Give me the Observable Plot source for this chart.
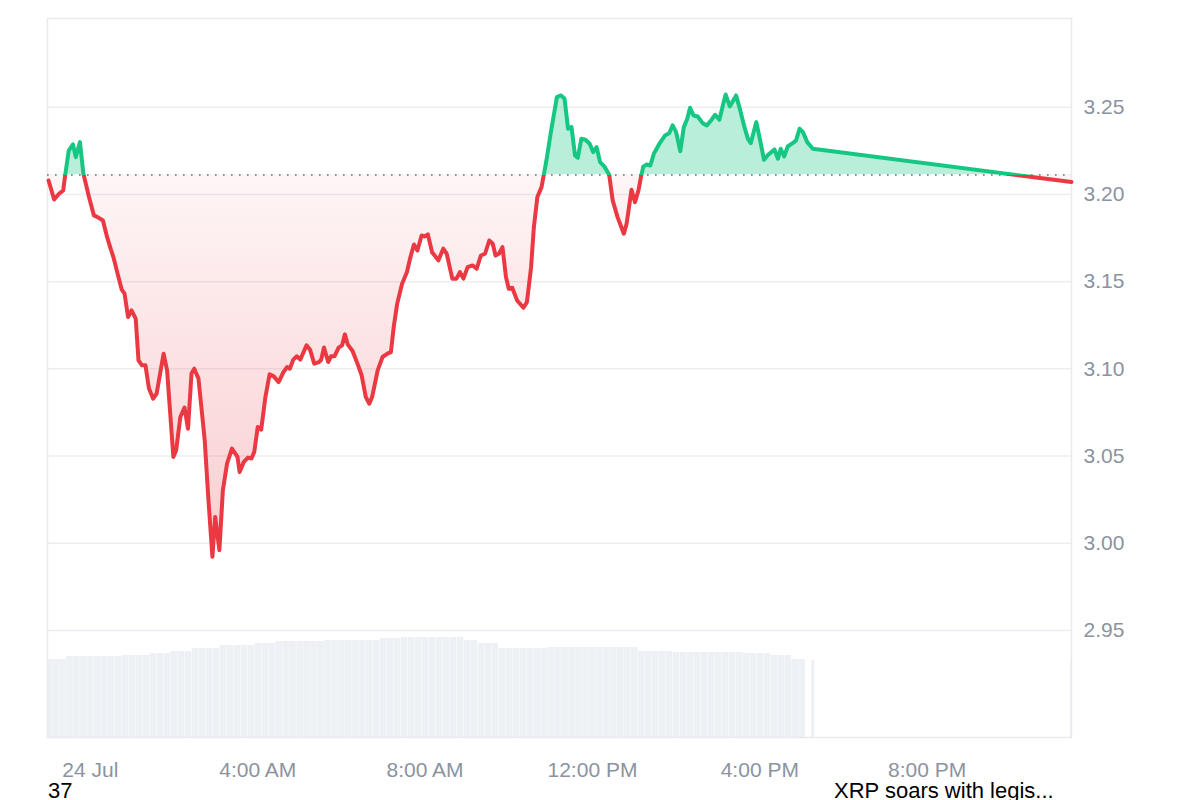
<!DOCTYPE html>
<html><head><meta charset="utf-8">
<script src="https://cdn.jsdelivr.net/npm/d3@7"></script>
<script src="https://cdn.jsdelivr.net/npm/@observablehq/plot@0.6"></script>
<style>
body{margin:0;background:#fff;font-family:"Liberation Sans",Arial,sans-serif;}
#wrap{position:relative;width:1200px;height:800px;overflow:hidden;}
#vol,#price{position:absolute;left:0;top:0;}
#caption{position:absolute;top:780px;left:0;width:1200px;height:22px;font-size:22px;line-height:22px;color:#000;}
#caption span{position:absolute;top:0;white-space:nowrap;}
</style></head><body>
<div id="wrap"><div id="vol"></div><div id="price"></div>
<div id="caption"><span id="capLeft" style="left:48px"></span><span id="capRight" style="left:834px"></span></div></div>
<script>
// ---- data (minutes relative to 24 Jul 2025 00:00 UTC) ----
const priceMinutes = [-60,-52,-45,-39,-36,-31,-25,-21,-15,-10,-2,5,12,18,24,29,33,39,45,49,54,59,65,69,74,79,84,90,95,105,110,119,123,129,135,140,145,149,155,164,169,175,179,185,190,196,203,211,214,220,226,231,235,240,245,251,257,263,270,277,282,286,291,296,301,310,315,321,328,331,335,341,345,350,356,361,365,369,376,383,389,395,400,404,412,419,426,431,435,440,447,454,459,464,469,475,479,484,490,499,506,511,519,525,530,535,541,548,554,560,566,572,577,581,586,591,596,600,605,612,621,626,632,636,641,647,654,660,669,675,680,685,690,695,699,704,710,716,721,726,731,737,744,749,756,765,769,776,781,786,790,793,798,803,808,816,824,830,835,840,846,851,856,860,865,871,878,884,890,896,902,907,911,917,926,932,938,943,947,955,961,966,971,981,986,990,995,1000,1007,1012,1017,1022,1028,1036,1407];
const prices = [3.2080,3.1971,3.2004,3.2023,3.2115,3.2252,3.2287,3.2214,3.2300,3.2119,3.1985,3.1880,3.1866,3.1851,3.1755,3.1689,3.1641,3.1546,3.1454,3.1431,3.1297,3.1335,3.1288,3.1049,3.1020,3.1020,3.0887,3.0829,3.0858,3.1087,3.0991,3.0495,3.0533,3.0724,3.0778,3.0657,3.0973,3.1001,3.0944,3.0590,3.0266,2.9922,3.0151,2.9960,3.0304,3.0457,3.0543,3.0495,3.0409,3.0466,3.0491,3.0486,3.0523,3.0667,3.0652,3.0838,3.0969,3.0957,3.0924,3.0982,3.1010,3.1001,3.1053,3.1072,3.1053,3.1135,3.1110,3.1030,3.1039,3.1053,3.1122,3.1039,3.1072,3.1072,3.1122,3.1135,3.1198,3.1140,3.1102,3.1030,3.0963,3.0838,3.0800,3.0838,3.0991,3.1068,3.1087,3.1096,3.1240,3.1374,3.1488,3.1555,3.1641,3.1713,3.1679,3.1765,3.1759,3.1771,3.1669,3.1622,3.1689,3.1660,3.1517,3.1517,3.1555,3.1517,3.1583,3.1593,3.1574,3.1650,3.1660,3.1736,3.1717,3.1650,3.1660,3.1698,3.1526,3.1459,3.1465,3.1392,3.1350,3.1382,3.1583,3.1813,3.1985,3.2042,3.2195,3.2348,3.2558,3.2568,3.2549,3.2377,3.2386,3.2224,3.2210,3.2319,3.2314,3.2291,3.2243,3.2271,3.2185,3.2161,3.2113,3.1966,3.1870,3.1775,3.1832,3.2027,3.1956,3.2023,3.2109,3.2161,3.2172,3.2166,3.2233,3.2291,3.2338,3.2351,3.2396,3.2357,3.2248,3.2386,3.2434,3.2497,3.2453,3.2447,3.2409,3.2396,3.2424,3.2457,3.2428,3.2510,3.2573,3.2505,3.2568,3.2482,3.2386,3.2319,3.2294,3.2415,3.2300,3.2199,3.2224,3.2258,3.2205,3.2262,3.2218,3.2275,3.2294,3.2310,3.2377,3.2357,3.2300,3.2262,3.2071];
const baselinePrice = 3.2112;
// volume (billions USD), 10-minute bars starting at -60 min
const volumeStartMinute = -60;
const volumeStepMinutes = 10;
const volumes = [7.8,7.8,7.8,8.1,8.1,8.1,8.1,8.1,8.1,8.1,8.1,8.2,8.2,8.2,8.2,8.4,8.4,8.4,8.6,8.6,8.6,8.9,8.9,8.9,8.9,9.2,9.2,9.2,9.2,9.2,9.4,9.4,9.4,9.6,9.6,9.6,9.6,9.6,9.6,9.6,9.7,9.7,9.7,9.7,9.7,9.7,9.7,9.7,9.9,9.9,9.9,10.1,10.1,10.1,10.1,10.1,10.1,10.1,10.1,10.1,9.7,9.7,9.4,9.4,9.4,8.9,8.9,8.9,8.9,8.9,8.9,8.9,9.0,9.0,9.0,9.0,9.0,9.0,9.0,9.0,9.0,9.0,9.0,9.0,9.0,8.6,8.6,8.6,8.6,8.6,8.5,8.5,8.5,8.5,8.5,8.5,8.5,8.5,8.5,8.5,8.4,8.4,8.4,8.4,8.2,8.2,8.2,7.8,7.8];
const extraVolumeMinutes = [1036, 1407];
const extraVolumes = [7.7, 7.7];
const yTicks = [2.95, 3.00, 3.05, 3.10, 3.15, 3.20, 3.25];
const xTickMinutes = [0, 240, 480, 720, 960, 1200];
const xTickLabels = ["24 Jul", "4:00 AM", "8:00 AM", "12:00 PM", "4:00 PM", "8:00 PM"];
const captionLeft = "37";
const captionRight = "XRP soars with legis...";

// ---- build ----
const t0 = Date.UTC(2025, 6, 24);
const toDate = m => new Date(t0 + m * 60000);
const data = priceMinutes.map((m, i) => ({date: toDate(m), price: prices[i]}));
const volData = volumes.map((v, i) => ({date: toDate(volumeStartMinute + i * volumeStepMinutes), vol: v}));
const volExtra = extraVolumeMinutes.map((m, i) => ({date: toDate(m), vol: extraVolumes[i]}));
const xDomain = [toDate(-61.5), toDate(1407)];
const tickDates = xTickMinutes.map(toDate);
const tickLabelMap = new Map(tickDates.map((d, i) => [+d, xTickLabels[i]]));

const W = 1200, H = 778, mL = 47, mR = 129, mT = 18, mB = 41;
const FONT = '"Liberation Sans", Arial, Helvetica, sans-serif';
const GRAY = "#8b93a1";
const RED = "#ea3943", GREEN = "#16c784";

const volPlot = Plot.plot({
  width: W, height: H, marginLeft: mL, marginRight: mR, marginTop: H - mB - 100, marginBottom: mB,
  style: {background: "white"},
  x: {type: "utc", domain: xDomain, axis: null},
  y: {domain: [0, 10], axis: null},
  marks: [
    Plot.ruleX(volData, {x: "date", y1: 0, y2: "vol", stroke: "#edf0f4", strokeWidth: 6.6, clip: true}),
    Plot.ruleX(volExtra, {x: "date", y1: 0, y2: "vol", stroke: "#edf0f4", strokeWidth: 3, clip: true})
  ]
});
document.getElementById("vol").appendChild(volPlot);

const chart = Plot.plot({
  width: W, height: H, marginLeft: mL, marginRight: mR, marginTop: mT, marginBottom: mB,
  style: {background: "transparent", fontFamily: FONT, fontSize: "21px", color: GRAY, overflow: "visible"},
  x: {type: "utc", domain: xDomain},
  y: {domain: [2.8886, 3.3009]},
  marks: [
    Plot.gridY(yTicks, {stroke: "#eceef1", strokeOpacity: 1, strokeWidth: 1.5}),
    Plot.frame({stroke: "#e8eaed", strokeWidth: 1.5}),
    Plot.axisY(yTicks, {anchor: "right", label: null, tickSize: 0, tickPadding: 12, tickFormat: d => d.toFixed(2), fill: GRAY, fontSize: 21}),
    Plot.axisX(tickDates, {anchor: "bottom", label: null, tickSize: 0, tickPadding: 25, tickFormat: d => tickLabelMap.get(+d), fill: GRAY, fontSize: 21}),
    Plot.areaY(data, {x: "date", y1: baselinePrice, y2: "price", fill: "url(#redGrad)"}),
    Plot.areaY(data, {x: "date", y1: baselinePrice, y2: "price", fill: GREEN, fillOpacity: 0.3}),
    Plot.ruleY([baselinePrice], {stroke: "#8a8f98", strokeWidth: 2, strokeDasharray: "1.6,6.4"}),
    Plot.lineY(data, {x: "date", y: "price", stroke: RED, strokeWidth: 4, strokeLinejoin: "round"}),
    Plot.lineY(data, {x: "date", y: "price", stroke: GREEN, strokeWidth: 4, strokeLinejoin: "round"})
  ]
});
document.getElementById("price").appendChild(chart);

// clip paths and gradient computed from the y scale
const ys = chart.scale("y");
const y0 = ys.apply(baselinePrice);
const yMin = ys.apply(d3.min(prices));
const NS = "http://www.w3.org/2000/svg";
const defs = document.createElementNS(NS, "defs");
defs.innerHTML = `
<clipPath id="clipAbove"><rect x="0" y="0" width="${W}" height="${y0}"></rect></clipPath>
<clipPath id="clipBelow"><rect x="0" y="${y0}" width="${W}" height="${H - y0}"></rect></clipPath>
<linearGradient id="redGrad" gradientUnits="userSpaceOnUse" x1="0" x2="0" y1="${y0}" y2="${yMin}">
  <stop offset="0" stop-color="${RED}" stop-opacity="0.05"></stop>
  <stop offset="1" stop-color="${RED}" stop-opacity="0.25"></stop>
</linearGradient>`;
chart.insertBefore(defs, chart.firstChild);
const areas = chart.querySelectorAll('g[aria-label="area"]');
const lines = chart.querySelectorAll('g[aria-label="line"]');
areas[0].setAttribute("clip-path", "url(#clipBelow)");
areas[1].setAttribute("clip-path", "url(#clipAbove)");
lines[0].setAttribute("clip-path", "url(#clipBelow)");
lines[1].setAttribute("clip-path", "url(#clipAbove)");

document.getElementById("capLeft").textContent = captionLeft;
document.getElementById("capRight").textContent = captionRight;
</script>
</body></html>
